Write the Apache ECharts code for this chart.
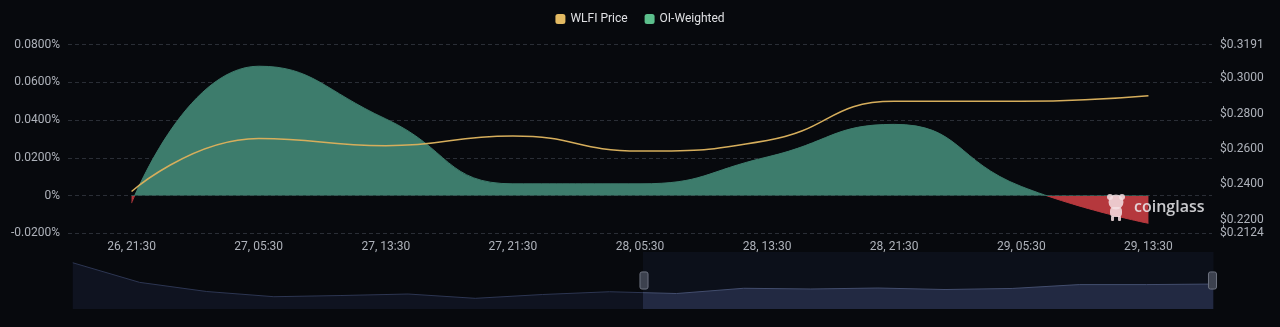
<!DOCTYPE html>
<html>
<head>
<meta charset="utf-8">
<script src="https://cdn.jsdelivr.net/npm/echarts@6/dist/echarts.min.js"></script>
<style>
  html, body { margin: 0; padding: 0; background: #07090d; }
  #chart { width: 1280px; height: 327px; }
</style>
</head>
<body>
<div id="chart"></div>
<script>
// 8-hour buckets (day, time)
const categories = [
  '23, 21:30', '24, 05:30', '24, 13:30', '24, 21:30', '25, 05:30', '25, 13:30',
  '25, 21:30', '26, 05:30', '26, 13:30', '26, 21:30', '27, 05:30', '27, 13:30',
  '27, 21:30', '28, 05:30', '28, 13:30', '28, 21:30', '29, 05:30', '29, 13:30'
];
// WLFI price (USD)
const priceValues = [
  0.412, 0.2997, 0.2474, 0.2178, 0.2246, 0.2332, 0.2087, 0.2303, 0.2462,
  0.2360, 0.2660, 0.2619, 0.2674, 0.2589, 0.2649, 0.2870, 0.2870, 0.2901
];
// OI-weighted funding rate (%), earlier buckets not visible in the picture
const oiWeightedValues = [
  null, null, null, null, null, null, null, null, null,
  -0.0040, 0.0685, 0.0406, 0.0062, 0.0062, 0.0204, 0.0377, 0.0048, -0.0147
];
const leftAxisMin = -0.02, leftAxisMax = 0.08, leftAxisStep = 0.02;
const rightAxisMin = 0.2124, rightAxisMax = 0.3191;
const seriesNames = ['WLFI Price', 'OI-Weighted'];

const chart = echarts.init(document.getElementById('chart'), null, { renderer: 'canvas' });

const labelColor = '#aeb2ba';
const fontFamily = 'Roboto, "Noto Sans", sans-serif';
const markFill = 'rgba(245,225,228,0.85)';

const option = {
  backgroundColor: '#07090d',
  animation: false,
  legend: {
    top: 8,
    left: 'center',
    itemWidth: 10,
    itemHeight: 10,
    itemGap: 17,
    icon: 'roundRect',
    data: seriesNames,
    textStyle: { color: '#dfe0e3', fontSize: 12, fontFamily: fontFamily }
  },
  grid: { left: 68, right: 68, top: 44.5, bottom: 93.7 },
  xAxis: {
    type: 'category',
    data: categories,
    boundaryGap: true,
    axisLine: { show: false },
    axisTick: { show: false },
    axisLabel: { color: labelColor, fontSize: 12, fontFamily: fontFamily, margin: 8, interval: 0 },
    splitLine: { show: false }
  },
  yAxis: [
    {
      type: 'value',
      position: 'left',
      min: leftAxisMin,
      max: leftAxisMax,
      interval: leftAxisStep,
      axisLine: { show: false },
      axisTick: { show: false },
      axisLabel: {
        color: labelColor, fontSize: 12, fontFamily: fontFamily, margin: 8,
        formatter: function (v) { return Math.abs(v) < 1e-9 ? '0%' : v.toFixed(4) + '%'; }
      },
      splitLine: { show: true, lineStyle: { color: '#2a2e36', type: [4, 3], width: 1 } }
    },
    {
      type: 'value',
      position: 'right',
      min: rightAxisMin,
      max: rightAxisMax,
      axisLine: { show: false },
      axisTick: { show: false },
      axisLabel: {
        color: labelColor, fontSize: 12, fontFamily: fontFamily, margin: 8,
        showMinLabel: true, showMaxLabel: true,
        formatter: function (v) { return '$' + v.toFixed(4); }
      },
      splitLine: { show: false }
    }
  ],
  visualMap: {
    show: false,
    type: 'piecewise',
    seriesIndex: 1,
    dimension: 1,
    pieces: [
      { gte: -1, lt: 0, color: '#b5383d' },
      { gte: 0, lte: 1, color: '#3d7c6c' }
    ]
  },
  dataZoom: [
    {
      type: 'slider',
      xAxisIndex: 0,
      start: 50,
      end: 100,
      left: 70,
      right: 69,
      bottom: 18,
      height: 57,
      showDetail: false,
      brushSelect: false,
      moveHandleSize: 0,
      backgroundColor: 'transparent',
      borderColor: 'transparent',
      fillerColor: 'rgba(30,40,75,0.22)',
      dataBackground: {
        lineStyle: { color: '#2d3652', width: 1, opacity: 1 },
        areaStyle: { color: '#0f1320', opacity: 1 }
      },
      selectedDataBackground: {
        lineStyle: { color: '#4d5878', width: 1, opacity: 1 },
        areaStyle: { color: '#232a40', opacity: 1 }
      },
      handleIcon: 'path://M2,0h4a2,2,0,0,1,2,2v13a2,2,0,0,1,-2,2h-4a2,2,0,0,1,-2,-2v-13a2,2,0,0,1,2,-2Z',
      handleSize: '30%',
      handleStyle: { color: '#3c414e', borderColor: '#6e7381', borderWidth: 1 }
    },
    { type: 'inside', xAxisIndex: 0, start: 50, end: 100 }
  ],
  series: [
    {
      name: seriesNames[0],
      type: 'line',
      yAxisIndex: 1,
      data: priceValues,
      smooth: true,
      showSymbol: false,
      z: 3,
      itemStyle: { color: '#e3ba62' },
      lineStyle: { color: '#d6ae5c', width: 1.5 }
    },
    {
      name: seriesNames[1],
      type: 'line',
      yAxisIndex: 0,
      data: oiWeightedValues,
      smooth: true,
      showSymbol: false,
      z: 1,
      itemStyle: { color: '#5cbf8c' },
      lineStyle: { width: 1 },
      areaStyle: { opacity: 1 }
    }
  ],
  graphic: [
    {
      type: 'group',
      left: 1107,
      top: 194,
      z: 100,
      silent: true,
      children: [
        { type: 'circle', z: 100, shape: { cx: 5, cy: 4, r: 3 }, style: { fill: markFill } },
        { type: 'circle', z: 100, shape: { cx: 17, cy: 4, r: 3 }, style: { fill: markFill } },
        { type: 'circle', z: 100, shape: { cx: 11, cy: 9, r: 7.5 }, style: { fill: markFill } },
        { type: 'rect', z: 100, shape: { x: 5, y: 14, width: 12, height: 10, r: 4 }, style: { fill: markFill } },
        { type: 'rect', z: 100, shape: { x: 6, y: 23, width: 3, height: 5, r: 1 }, style: { fill: markFill } },
        { type: 'rect', z: 100, shape: { x: 13, y: 23, width: 3, height: 5, r: 1 }, style: { fill: markFill } }
      ]
    },
    {
      type: 'text',
      left: 1134,
      top: 199,
      z: 100,
      silent: true,
      style: {
        text: 'coinglass',
        fill: 'rgba(235,235,238,0.85)',
        font: '600 16px "Open Sans", sans-serif'
      }
    }
  ]
};

chart.setOption(option);
</script>
</body>
</html>
